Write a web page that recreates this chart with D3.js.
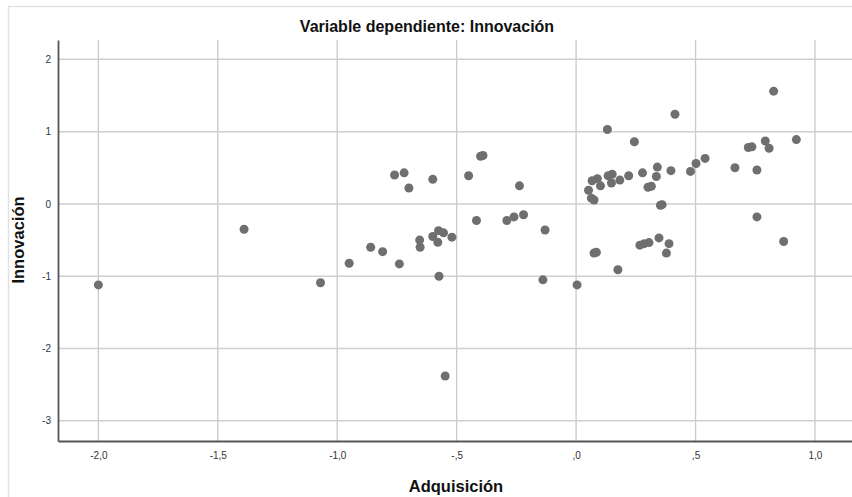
<!DOCTYPE html>
<html>
<head>
<meta charset="utf-8">
<script src="https://cdn.jsdelivr.net/npm/d3@7"></script>
<style>
  html, body { margin: 0; padding: 0; background: #fff; }
  svg { display: block; font-family: "Liberation Sans", Arial, sans-serif; }
</style>
</head>
<body>
<svg id="chart" width="852" height="497"></svg>
<script>
// Adquisición (x) vs Innovación (y) residual scatter
const adquisicion = [
  -2.00, -1.39, -1.07, -0.95, -0.86, -0.81, -0.74, -0.76, -0.72, -0.70,
  -0.655, -0.653, -0.60, -0.60, -0.576, -0.555, -0.579, -0.52, -0.574, -0.548,
  -0.45, -0.40, -0.39, -0.417, -0.29, -0.26, -0.22, -0.237, -0.13, -0.139,
  0.004, 0.131, 0.244, 0.414, 0.827, 0.922, 0.792, 0.808, 0.721, 0.736,
  0.665, 0.757, 0.757, 0.869, 0.54, 0.502, 0.479, 0.397, 0.34, 0.336,
  0.278, 0.22, 0.183, 0.151, 0.134, 0.148, 0.102, 0.089, 0.067, 0.052,
  0.064, 0.075, 0.301, 0.315, 0.353, 0.36, 0.347, 0.267, 0.285, 0.305,
  0.389, 0.378, 0.075, 0.085, 0.175
];
const innovacion = [
  -1.12, -0.35, -1.09, -0.82, -0.60, -0.66, -0.83, 0.40, 0.43, 0.22,
  -0.50, -0.60, 0.34, -0.45, -0.37, -0.40, -0.53, -0.46, -1.00, -2.38,
  0.39, 0.66, 0.67, -0.23, -0.23, -0.18, -0.15, 0.25, -0.36, -1.05,
  -1.12, 1.03, 0.86, 1.24, 1.56, 0.89, 0.87, 0.77, 0.78, 0.79,
  0.50, 0.47, -0.18, -0.52, 0.63, 0.56, 0.45, 0.46, 0.51, 0.38,
  0.43, 0.39, 0.33, 0.41, 0.39, 0.29, 0.25, 0.35, 0.32, 0.19,
  0.08, 0.055, 0.23, 0.245, -0.02, -0.01, -0.47, -0.57, -0.55, -0.535,
  -0.55, -0.68, -0.68, -0.67, -0.91
];
const xTicks = [-2.0, -1.5, -1.0, -0.5, 0.0, 0.5, 1.0];
const xTickLabels = ["-2,0", "-1,5", "-1,0", "-,5", ",0", ",5", "1,0"];
const yTicks = [2, 1, 0, -1, -2, -3];
const yTickLabels = ["2", "1", "0", "-1", "-2", "-3"];

const svg = d3.select("#chart");
const plot = { left: 58, right: 852, top: 40, bottom: 441 };

// outer frame
svg.append("rect")
  .attr("x", 8.5).attr("y", 6.5)
  .attr("width", 900).attr("height", 600)
  .attr("fill", "none").attr("stroke", "#e2e2e2").attr("stroke-width", 1.5);

const x = d3.scaleLinear().domain([-2.169, 1.155]).range([plot.left, plot.right]);
const y = d3.scaleLinear().domain([-3.28, 2.268]).range([plot.bottom, plot.top]);

// gridlines
const grid = svg.append("g");
grid.selectAll("line.gx").data(xTicks).join("line")
  .attr("x1", d => x(d)).attr("x2", d => x(d))
  .attr("y1", plot.top).attr("y2", plot.bottom)
  .attr("stroke", "#c9c9c9").attr("stroke-width", 1.3);
grid.selectAll("line.gy").data(yTicks).join("line")
  .attr("x1", plot.left).attr("x2", plot.right)
  .attr("y1", d => y(d)).attr("y2", d => y(d))
  .attr("stroke", "#cfcfcf").attr("stroke-width", 1.5);

// axes
const xAxis = d3.axisBottom(x).tickValues(xTicks)
  .tickFormat((d, i) => xTickLabels[i]).tickSize(0).tickPadding(11);
const gx = svg.append("g").attr("transform", `translate(0,${plot.bottom})`).call(xAxis);
gx.select(".domain").attr("stroke", "#555").attr("stroke-width", 1.8);
gx.selectAll("text").attr("font-size", 10).attr("fill", "#333");

const yAxis = d3.axisLeft(y).tickValues(yTicks)
  .tickFormat((d, i) => yTickLabels[i]).tickSize(0).tickPadding(7);
const gy = svg.append("g").attr("transform", `translate(${plot.left},0)`).call(yAxis);
gy.select(".domain").attr("stroke", "#555").attr("stroke-width", 1.8);
gy.selectAll("text").attr("font-size", 10).attr("fill", "#2a3550");

// points
svg.append("g").selectAll("circle")
  .data(adquisicion.map((d, i) => [d, innovacion[i]]))
  .join("circle")
  .attr("cx", d => x(d[0])).attr("cy", d => y(d[1]))
  .attr("r", 4.5).attr("fill", "#6f6f6f");

// titles
svg.append("text")
  .attr("x", 427).attr("y", 32).attr("text-anchor", "middle")
  .attr("font-size", 16).attr("font-weight", "bold").attr("fill", "#111")
  .text("Variable dependiente: Innovación");

svg.append("text")
  .attr("x", 456).attr("y", 492).attr("text-anchor", "middle")
  .attr("font-size", 16.5).attr("font-weight", "bold").attr("fill", "#111")
  .text("Adquisición");

svg.append("text")
  .attr("transform", "translate(24,240) rotate(-90)").attr("text-anchor", "middle")
  .attr("font-size", 16.5).attr("font-weight", "bold").attr("fill", "#111")
  .text("Innovación");
</script>
</body>
</html>
